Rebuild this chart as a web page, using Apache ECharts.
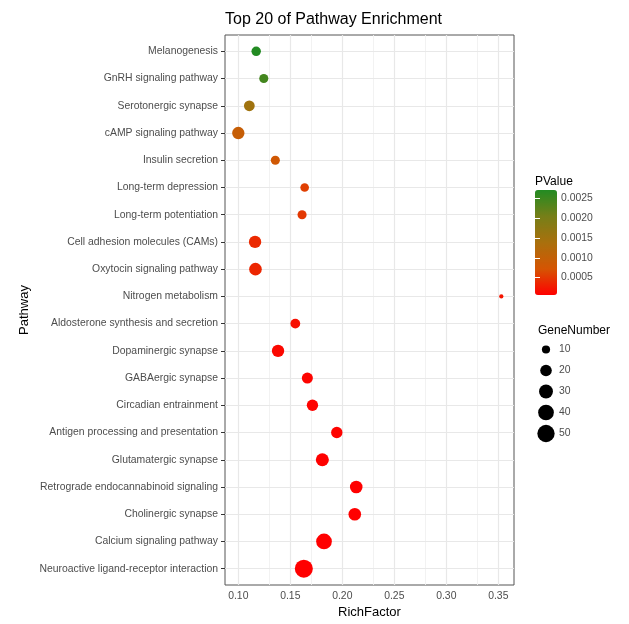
<!DOCTYPE html>
<html>
<head>
<meta charset="utf-8">
<script src="https://cdn.jsdelivr.net/npm/echarts@6/dist/echarts.min.js"></script>
<style>
  html, body { margin: 0; padding: 0; background: #ffffff; }
  #chart { width: 629px; height: 624px; }
</style>
</head>
<body>
<div id="chart"></div>
<script>
// Enriched pathways, listed top to bottom
const pathways = [
  'Melanogenesis',
  'GnRH signaling pathway',
  'Serotonergic synapse',
  'cAMP signaling pathway',
  'Insulin secretion',
  'Long-term depression',
  'Long-term potentiation',
  'Cell adhesion molecules (CAMs)',
  'Oxytocin signaling pathway',
  'Nitrogen metabolism',
  'Aldosterone synthesis and secretion',
  'Dopaminergic synapse',
  'GABAergic synapse',
  'Circadian entrainment',
  'Antigen processing and presentation',
  'Glutamatergic synapse',
  'Retrograde endocannabinoid signaling',
  'Cholinergic synapse',
  'Calcium signaling pathway',
  'Neuroactive ligand-receptor interaction'
];
const richFactor = [0.1172, 0.1245, 0.1106, 0.1000, 0.1356, 0.1638, 0.1613, 0.1161, 0.1165, 0.3529,
                    0.1548, 0.1382, 0.1664, 0.1713, 0.1947, 0.1808, 0.2134, 0.2120, 0.1824, 0.1630];
const geneNumber = [13, 12, 17, 23, 12, 11, 12, 23, 24, 6,
                    14, 23, 18, 19, 19, 26, 24, 24, 40, 55];
const pValue = [0.00271, 0.00245, 0.00150, 0.00095, 0.00080, 0.00055, 0.00050, 0.00038, 0.00036, 0.00022,
                0.00018, 0.00012, 0.00009, 0.00008, 0.00008, 0.00007, 0.00006, 0.00006, 0.00006, 0.00006];

// Tick labels
const richTicks = [0.10, 0.15, 0.20, 0.25, 0.30, 0.35];
const richMinorTicks = [0.125, 0.175, 0.225, 0.275, 0.325];
const pTicks = [0.0005, 0.0010, 0.0015, 0.0020, 0.0025];
const geneLegendValues = [10, 20, 30, 40, 50];

// Colour ramp from low p (red) to high p (forest green), interpolated through Lab
const pColors = ['#ff0000', '#d55503', '#a9700d', '#767f18', '#228b22'];

const gMin = Math.min(...geneNumber);
const gMax = Math.max(...geneNumber);
const pMin = Math.min(...pValue);
const pMax = Math.max(...pValue);

// Point diameter grows with the square root of the scaled gene count
function sizeOf(n) {
  const t = Math.max(0, (n - gMin) / (gMax - gMin));
  return 2.75 * (1.55 + 5 * Math.sqrt(t));
}

const rowIdx = pathways.map((_, i) => i);
const gridColor = '#e8e8e8';
const font = 'Liberation Sans, Arial, Helvetica, sans-serif';

const chart = echarts.init(document.getElementById('chart'), null, { renderer: 'canvas' });

const option = {
  animation: false,
  backgroundColor: '#ffffff',
  textStyle: { fontFamily: font },
  title: [
    {
      text: 'Top 20 of Pathway Enrichment',
      left: 225, top: 12, padding: 0,
      textStyle: { fontSize: 16, fontWeight: 'normal', color: '#000000', fontFamily: font }
    },
    {
      text: 'PValue',
      left: 535, top: 176, padding: 0,
      textStyle: { fontSize: 12, fontWeight: 'normal', color: '#000000', fontFamily: font }
    },
    {
      text: 'GeneNumber',
      left: 538, top: 325, padding: 0,
      textStyle: { fontSize: 12, fontWeight: 'normal', color: '#000000', fontFamily: font }
    }
  ],
  grid: [
    // main panel
    { left: 225, top: 35, width: 289, height: 551, show: true, borderColor: '#555555', borderWidth: 1,
      backgroundColor: 'transparent', containLabel: false },
    // colour bar ticks
    { left: 535, top: 190, width: 22, height: 105, show: false },
    // size legend
    { left: 536, top: 339, width: 20, height: 105, show: false }
  ],
  xAxis: [
    {
      gridIndex: 0, type: 'value', min: 0.0872, max: 0.3651,
      axisLine: { show: false },
      axisTick: { show: true, customValues: richTicks, length: 4, lineStyle: { color: '#333333' } },
      axisLabel: { customValues: richTicks, formatter: v => v.toFixed(2), color: '#4d4d4d', fontSize: 10.4, margin: 6 },
      splitLine: { show: false },
      name: 'RichFactor', nameLocation: 'middle', nameGap: 21,
      nameTextStyle: { fontSize: 13, color: '#000000' }
    },
    { gridIndex: 1, type: 'value', min: 0, max: 1, show: false },
    { gridIndex: 2, type: 'value', min: 0, max: 1, show: false }
  ],
  yAxis: [
    {
      gridIndex: 0, type: 'value', min: -0.6, max: 19.6, inverse: true,
      axisLine: { show: false },
      axisTick: { show: true, customValues: rowIdx, length: 4, lineStyle: { color: '#333333' } },
      axisLabel: { customValues: rowIdx, formatter: v => pathways[Math.round(v)], color: '#4d4d4d', fontSize: 10.4, margin: 7 },
      splitLine: { show: false },
      name: 'Pathway', nameLocation: 'middle', nameGap: 194,
      nameTextStyle: { fontSize: 13, color: '#000000' }
    },
    {
      gridIndex: 1, type: 'value', min: pMin, max: pMax, position: 'right', z: 10,
      axisLine: { show: false },
      axisTick: { show: true, inside: true, customValues: pTicks, length: 5, lineStyle: { color: '#ffffff', width: 1 } },
      axisLabel: { customValues: pTicks, formatter: v => v.toFixed(4), color: '#4d4d4d', fontSize: 10.4, margin: 4 },
      splitLine: { show: false }
    },
    {
      gridIndex: 1, type: 'value', min: pMin, max: pMax, position: 'left', z: 10,
      axisLine: { show: false },
      axisTick: { show: true, inside: true, customValues: pTicks, length: 5, lineStyle: { color: '#ffffff', width: 1 } },
      axisLabel: { show: false },
      splitLine: { show: false }
    },
    {
      gridIndex: 2, type: 'category', inverse: true, position: 'right',
      data: geneLegendValues.map(String),
      axisLine: { show: false },
      axisTick: { show: false },
      axisLabel: { color: '#4d4d4d', fontSize: 10.4, margin: 3 },
      splitLine: { show: false }
    }
  ],
  visualMap: {
    type: 'continuous',
    min: pMin, max: pMax,
    dimension: 3,
    seriesIndex: 0,
    calculable: false,
    hoverLink: false,
    text: null,
    left: 535, top: 190,
    itemWidth: 22, itemHeight: 105,
    padding: 0,
    inRange: { color: pColors }
  },
  series: [
    {
      type: 'scatter',
      xAxisIndex: 0, yAxisIndex: 0,
      z: 3,
      data: pathways.map((p, i) => [richFactor[i], i, geneNumber[i], pValue[i]]),
      symbolSize: d => sizeOf(d[2]),
      itemStyle: { opacity: 1, borderWidth: 0 },
      emphasis: { disabled: true }
    },
    {
      // panel grid lines
      type: 'line',
      xAxisIndex: 0, yAxisIndex: 0,
      data: [],
      silent: true,
      markLine: {
        silent: true,
        z: 1,
        symbol: ['none', 'none'],
        label: { show: false },
        emphasis: { disabled: true },
        data: [
          ...richMinorTicks.map(v => ({ xAxis: v, lineStyle: { color: '#f0f0f0', width: 0.9, type: 'solid' } })),
          ...richTicks.map(v => ({ xAxis: v, lineStyle: { color: gridColor, width: 1.2, type: 'solid' } })),
          ...rowIdx.map(v => ({ yAxis: v, lineStyle: { color: gridColor, width: 1.2, type: 'solid' } }))
        ]
      }
    },
    {
      // size legend keys
      type: 'scatter',
      xAxisIndex: 2, yAxisIndex: 3,
      data: geneLegendValues.map((v, i) => [0.5, i, v]),
      symbolSize: d => sizeOf(d[2]),
      itemStyle: { color: '#000000', opacity: 1 },
      emphasis: { disabled: true },
      silent: true
    }
  ]
};

chart.setOption(option);
</script>
</body>
</html>
